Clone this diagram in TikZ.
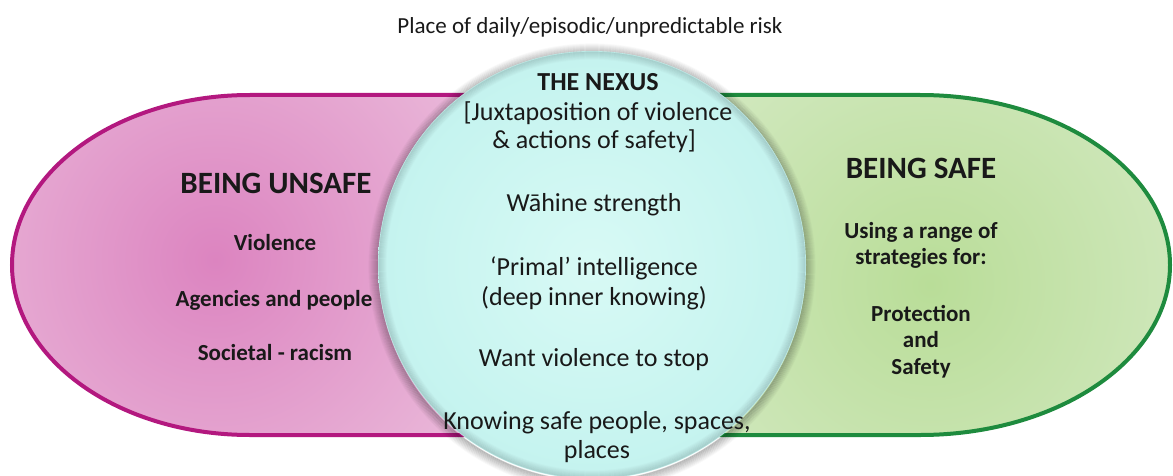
\documentclass[tikz,border=0pt]{standalone}
\usepackage{fontspec}
\setmainfont{Carlito}
\definecolor{magborder}{HTML}{B3187F}
\definecolor{grnborder}{HTML}{1E8B3E}
\definecolor{pinkin}{HTML}{DC84C0}
\definecolor{pinkout}{HTML}{EFCCE3}
\definecolor{greenin}{HTML}{B9DD98}
\definecolor{greenout}{HTML}{E0EFD6}
\definecolor{cyanin}{HTML}{D8FAF5}
\definecolor{cyanout}{HTML}{C4F3EF}
\tikzset{
  txt/.style={inner sep=0pt, text=black!90, font=\fontsize{23}{27}\selectfont},
  btxt/.style={txt, font=\bfseries\fontsize{23}{27}\selectfont},
  head/.style={txt, font=\bfseries\fontsize{31}{35}\selectfont},
  ntxt/.style={txt, font=\fontsize{26}{30}\selectfont},
}
\begin{document}
\begin{tikzpicture}[x=1pt,y=1pt]
\useasboundingbox (0,0) rectangle (1173,475);
\fill[white] (0,0) rectangle (1173,475);
% left shape
\begin{scope}
\clip (600,380) -- (250,380) arc[start angle=90,end angle=270,x radius=238,y radius=170] -- (600,40) -- cycle;
\shade[inner color=pinkin, outer color=pinkout] (215,215) circle[radius=420];
\end{scope}
\draw[magborder, line width=4pt] (600,380) -- (250,380) arc[start angle=90,end angle=270,x radius=238,y radius=170] -- (600,40);
% right shape
\begin{scope}
\clip (590,40) -- (920,40) arc[start angle=-90,end angle=90,x radius=250,y radius=170] -- (590,380) -- cycle;
\shade[inner color=greenin, outer color=greenout] (930,190) circle[radius=460];
\end{scope}
\draw[grnborder, line width=4pt] (590,40) -- (920,40) arc[start angle=-90,end angle=90,x radius=250,y radius=170] -- (590,380);
% circle shadow
\foreach \i in {0,...,9} {
  \draw[black, opacity={0.22*(1-\i/10)}, line width=1.2pt] (592,208) circle[radius={214+\i}];
}
\shade[inner color=cyanin, outer color=cyanout] (592,210) circle[radius=214];
\foreach \i in {1,...,8} {
  \draw[gray!80!teal, opacity={0.28*(1-\i/9)}, line width=1.2pt] (592,210) circle[radius={214-\i}];
}
\node (nexuscircle) [circle, minimum size=428pt, inner sep=0pt] at (592,210) {};
% title
\node[txt] (title) at (590,448) {Place of daily/episodic/unpredictable risk};
% nexus text
\node[ntxt, font=\bfseries\fontsize{26}{30}\selectfont] (nexus) at (598,393) {THE NEXUS};
\node[ntxt] (jux1) at (598,362) {[Juxtaposition of violence};
\node[ntxt] (jux2) at (594,334) {\& actions of safety]};
\node[ntxt] (wahine) at (594,270) {Wāhine strength};
\node[ntxt] (primal) at (594,207) {‘Primal’ intelligence};
\node[ntxt] (deep) at (594,177) {(deep inner knowing)};
\node[ntxt] (want) at (594,115) {Want violence to stop};
\node[ntxt] (know1) at (597,52) {Knowing safe people, spaces,};
\node[ntxt] (know2) at (597,23) {places};
% left text
\node[head] (unsafe) at (276,292) {BEING UNSAFE};
\node[btxt] (violence) at (275,232) {Violence};
\node[btxt] (agencies) at (274,175) {Agencies and people};
\node[btxt] (societal) at (275,122) {Societal - racism};
% right text
\node[head] (safe) at (921,307) {BEING SAFE};
\node[btxt] (using) at (921,243) {Using a range of};
\node[btxt] (strat) at (921,217) {strategies for:};
\node[btxt] (prot) at (921,162) {Protection};
\node[btxt] (and) at (921,135) {and};
\node[btxt] (safety) at (921,107) {Safety};
\end{tikzpicture}
\end{document}
